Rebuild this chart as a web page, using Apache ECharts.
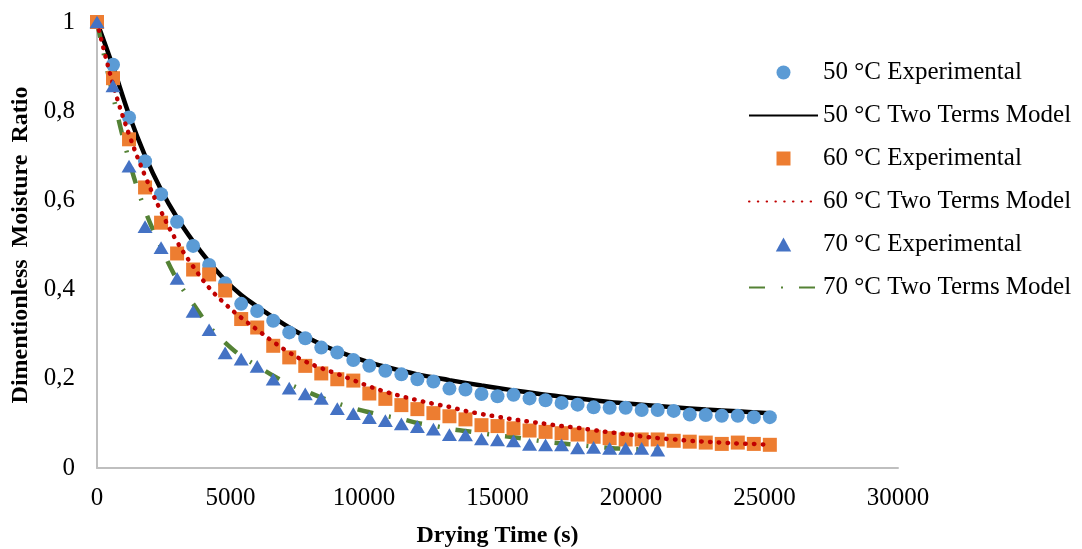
<!DOCTYPE html>
<html>
<head>
<meta charset="utf-8">
<script src="https://cdn.jsdelivr.net/npm/echarts@6/dist/echarts.min.js"></script>
<style>
html,body{margin:0;padding:0;background:#fff;}
#chart{width:1082px;height:549px;}
</style>
</head>
<body>
<div id="chart"></div>
<script>
// ---- Data ----
var timeExp50 = [0,600,1200,1800,2400,3000,3600,4200,4800,5400,6000,6600,7200,7800,8400,9000,9600,10200,10800,11400,12000,12600,13200,13800,14400,15000,15600,16200,16800,17400,18000,18600,19200,19800,20400,21000,21600,22200,22800,23400,24000,24600,25200];
var mrExp50 = [1.0,0.904,0.786,0.688,0.614,0.552,0.498,0.455,0.414,0.368,0.352,0.330,0.304,0.291,0.270,0.259,0.242,0.229,0.218,0.210,0.199,0.194,0.178,0.176,0.166,0.161,0.164,0.156,0.152,0.146,0.142,0.136,0.135,0.135,0.130,0.130,0.128,0.120,0.119,0.117,0.117,0.114,0.114];

var timeModel50 = [0,600,1200,1800,2400,3000,3600,4200,4800,5400,6000,6600,7200,7800,8400,9000,9600,10200,10800,12000,13200,14400,15600,16800,18000,19200,20400,21600,22800,24000,25200];
var mrModel50 = [1.0,0.900,0.792,0.700,0.624,0.561,0.508,0.462,0.421,0.388,0.362,0.338,0.315,0.295,0.277,0.262,0.249,0.237,0.227,0.210,0.197,0.185,0.174,0.164,0.156,0.148,0.142,0.136,0.131,0.127,0.123];

var timeExp60 = [0,600,1200,1800,2400,3000,3600,4200,4800,5400,6000,6600,7200,7800,8400,9000,9600,10200,10800,11400,12000,12600,13200,13800,14400,15000,15600,16200,16800,17400,18000,18600,19200,19800,20400,21000,21600,22200,22800,23400,24000,24600,25200];
var mrExp60 = [1.0,0.874,0.737,0.629,0.550,0.481,0.445,0.434,0.398,0.334,0.315,0.274,0.248,0.229,0.212,0.199,0.196,0.167,0.155,0.141,0.132,0.123,0.116,0.109,0.096,0.094,0.089,0.084,0.081,0.078,0.075,0.070,0.067,0.064,0.064,0.064,0.061,0.059,0.057,0.054,0.057,0.054,0.052];

var timeModel60 = [0,600,1200,1800,2400,3000,3600,4200,4800,5400,6000,6600,7200,7800,8400,9000,9600,10200,10800,11400,12000,12600,13200,13800,14400,15000,15600,16200,16800,17400,18000,18600,19200,19800,20400,21000,21600,22200,22800,23400,24000,24600,25200];
var mrModel60 = [1.0,0.860,0.748,0.655,0.575,0.507,0.452,0.404,0.368,0.337,0.310,0.283,0.259,0.239,0.224,0.211,0.197,0.183,0.171,0.161,0.152,0.144,0.137,0.128,0.121,0.115,0.109,0.104,0.099,0.094,0.090,0.085,0.080,0.076,0.071,0.067,0.064,0.061,0.059,0.057,0.055,0.054,0.052];

var timeExp70 = [0,600,1200,1800,2400,3000,3600,4200,4800,5400,6000,6600,7200,7800,8400,9000,9600,10200,10800,11400,12000,12600,13200,13800,14400,15000,15600,16200,16800,17400,18000,18600,19200,19800,20400,21000];
var mrExp70 = [1.0,0.857,0.677,0.541,0.494,0.425,0.351,0.310,0.258,0.244,0.228,0.199,0.179,0.166,0.156,0.133,0.122,0.113,0.106,0.099,0.093,0.087,0.075,0.074,0.065,0.063,0.061,0.053,0.052,0.052,0.045,0.046,0.044,0.044,0.044,0.040];

var timeModel70 = [0,600,1200,1800,2400,3000,3600,4200,4800,5400,6000,6600,7200,7800,8400,9000,9600,10200,10800,11400,12000,12600,13200,13800,14400,15000,15600,16200,16800,17400,18000,18600,19200,19800,20400,21000];
var mrModel70 = [1.0,0.835,0.690,0.578,0.495,0.422,0.368,0.318,0.281,0.251,0.229,0.207,0.188,0.173,0.158,0.145,0.134,0.125,0.117,0.110,0.101,0.095,0.088,0.083,0.078,0.073,0.069,0.064,0.059,0.055,0.052,0.048,0.045,0.043,0.042,0.041];

var seriesNames = ['50 °C Experimental','50 °C Two Terms Model','60 °C Experimental','60 °C Two Terms Model','70 °C Experimental','70 °C Two Terms Model'];
var xTicks = [0,5000,10000,15000,20000,25000,30000];
var yTicks = ['0','0,2','0,4','0,6','0,8','1'];

function pairs(xs, ys){ var out=[]; for(var i=0;i<xs.length;i++){ out.push([xs[i], ys[i]]); } return out; }

var SQUARE = 'path://M0,0L10,0L10,10L0,10Z';
var TRIANGLE = 'path://M5.5,0L11,10L0,10Z';
var FONT = 'Liberation Serif';
var chart = echarts.init(document.getElementById('chart'), null, {renderer:'canvas'});
var hideSym = {opacity:0};
var option = {
  backgroundColor:'#ffffff',
  animation:false,
  grid:{left:97, top:22, right:184, bottom:81, containLabel:false, outerBoundsMode:'none'},
  legend:{
    orient:'vertical', left:748, top:60, padding:0,
    itemWidth:69, itemHeight:14, itemGap:18, symbolKeepAspect:true,
    textStyle:{fontFamily:FONT, fontSize:25, color:'#000'},
    data: [
      {name:seriesNames[0]},
      {name:seriesNames[1], itemStyle:hideSym},
      {name:seriesNames[2]},
      {name:seriesNames[3], itemStyle:hideSym},
      {name:seriesNames[4]},
      {name:seriesNames[5], itemStyle:hideSym}
    ]
  },
  xAxis:{
    type:'value', min:0, max:30000, interval:5000,
    name:'Drying Time (s)', nameLocation:'middle', nameGap:56,
    nameTextStyle:{fontFamily:FONT, fontSize:24, fontWeight:'bold', color:'#000'},
    axisLine:{show:true, lineStyle:{color:'#bfbfbf', width:2}},
    axisTick:{show:false}, splitLine:{show:false},
    axisLabel:{fontFamily:FONT, fontSize:25, color:'#000', margin:18,
      formatter:function(v){ var i = xTicks.indexOf(v); return i>=0 ? String(xTicks[i]) : ''; }}
  },
  yAxis:{
    type:'value', min:0, max:1, interval:0.2,
    name:'Dimentionless  Moisture  Ratio', nameLocation:'middle', nameGap:60,
    nameTextStyle:{fontFamily:FONT, fontSize:24, fontWeight:'bold', color:'#000'},
    axisLine:{show:true, lineStyle:{color:'#bfbfbf', width:2}},
    axisTick:{show:false}, splitLine:{show:false},
    axisLabel:{fontFamily:FONT, fontSize:25, color:'#000', margin:22,
      formatter:function(v){ return yTicks[Math.round(v*5)]; }}
  },
  series:[
    {name:seriesNames[0], type:'scatter', data:pairs(timeExp50, mrExp50), symbol:'circle', symbolSize:14, z:5,
      itemStyle:{color:'#5B9BD5', opacity:1}},
    {name:seriesNames[1], type:'line', data:pairs(timeModel50, mrModel50), smooth:0.4, symbol:'none', z:3,
      lineStyle:{color:'#000000', width:4.5}, itemStyle:{color:'#000000'}},
    {name:seriesNames[2], type:'scatter', data:pairs(timeExp60, mrExp60), symbol:SQUARE, symbolKeepAspect:true, symbolSize:14, z:6,
      itemStyle:{color:'#ED7D31', opacity:1}},
    {name:seriesNames[3], type:'line', data:pairs(timeModel60, mrModel60), smooth:0.4, symbol:'none', z:7,
      lineStyle:{color:'#C00000', width:4.5, type:[0.5,8.3], cap:'round'}, itemStyle:{color:'#C00000'}},
    {name:seriesNames[4], type:'scatter', data:pairs(timeExp70, mrExp70), symbol:TRIANGLE, symbolKeepAspect:true, symbolSize:[15,14], z:8,
      itemStyle:{color:'#4472C4', opacity:1}},
    {name:seriesNames[5], type:'line', data:pairs(timeModel70, mrModel70), smooth:0.4, symbol:'none', z:4,
      lineStyle:{color:'#548235', width:4.5, type:[16,16,2,16], cap:'butt'}, itemStyle:{color:'#548235'}}
  ]
};
chart.setOption(option);
</script>
</body>
</html>
